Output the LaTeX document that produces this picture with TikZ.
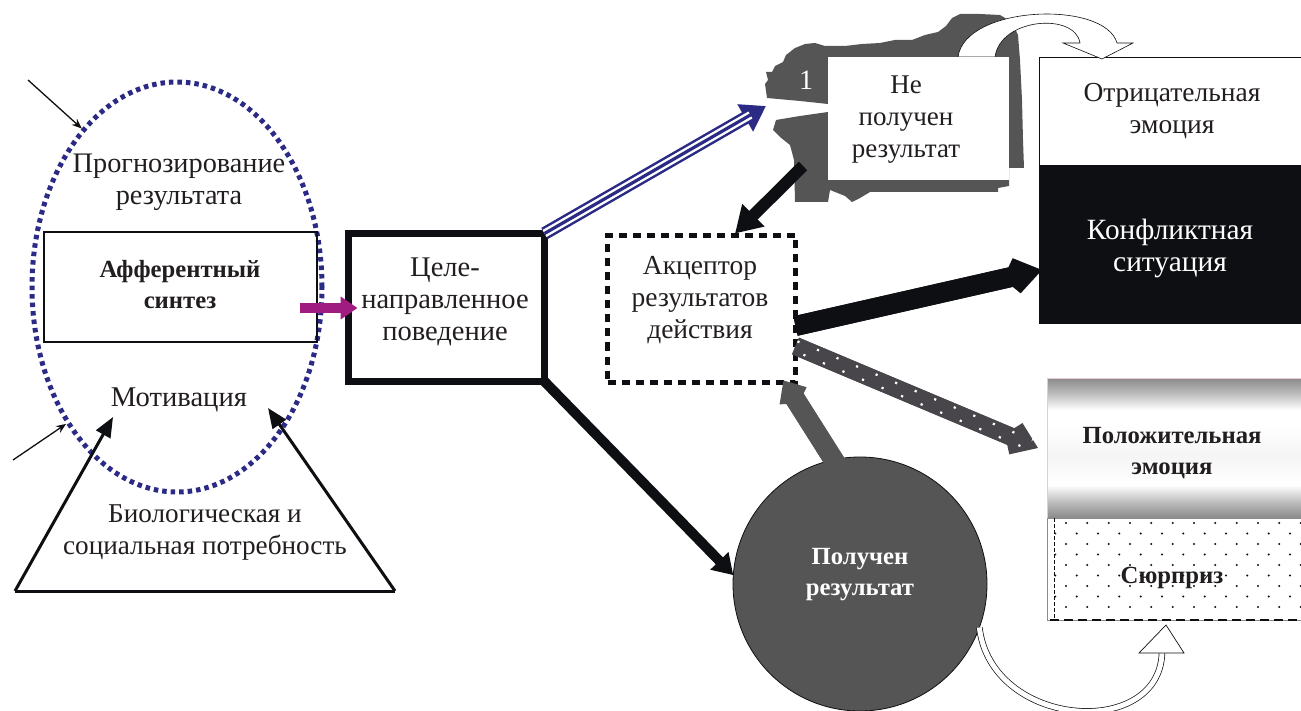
\documentclass[tikz,border=0pt]{standalone}
\usepackage{fontspec}
\setmainfont{Liberation Serif}
\usetikzlibrary{arrows.meta,shapes.geometric,calc}
\definecolor{navy}{HTML}{2B2A84}
\definecolor{mag}{HTML}{A11C80}
\definecolor{dgray}{HTML}{555555}
\definecolor{dotgray}{HTML}{48464A}
\definecolor{ink}{HTML}{0E0F13}
\definecolor{txtc}{HTML}{221E1F}
\definecolor{pinkline}{HTML}{E6C9D2}
\definecolor{metal}{HTML}{8A8A8A}
\begin{document}
\begin{tikzpicture}[x=1pt,y=-1pt,
  txt/.style={font=\fontsize{#1}{32}\selectfont, align=center, inner sep=0pt, text=txtc},
  txt/.default=28,
  btxt/.style={font=\fontsize{24.7}{31}\selectfont\bfseries, align=center, inner sep=0pt, text=txtc},
  shapebox/.style={rectangle, inner sep=0pt, outer sep=0pt},
  thinarrow/.style={ink, line width=1.3pt, -{Stealth[length=10pt,width=8pt]}},
  sidearrow/.style={ink, line width=3pt, -{Triangle[length=20pt,width=16pt]}},
]
\useasboundingbox (0,0) rectangle (1301,711);

% ---------- left part ----------
\node[ellipse, draw=navy, line width=5pt, dash pattern=on 4.5pt off 4pt,
      minimum width=290pt, minimum height=410pt, inner sep=0pt] (ell) at (177,287) {};
\node[shapebox, draw=ink, line width=1.5pt, minimum width=273pt, minimum height=110pt] (aff) at (180.5,287) {};
\node[btxt] (afftxt) at (180,285) {Афферентный\\синтез};
\node[txt=28.3] (prog) at (179,182) {Прогнозирование\\результата};
\node[txt=28.6] (mot) at (179,400) {Мотивация};
\node[txt=27.2] (bio) at (205,532) {Биологическая и\\социальная потребность};

\coordinate (tl) at (15,591);
\coordinate (tr) at (395,591);
\coordinate (tipL) at (113,417);
\coordinate (tipR) at (268,408);
\draw[ink, line width=3pt] (tl) -- (tr);
\draw[sidearrow] (tl) -- (tipL);
\draw[sidearrow] (tr) -- (tipR);

\coordinate (in1) at (28,80);
\coordinate (in2) at (13,460);
\draw[thinarrow] (in1) -- (ell.121);
\draw[thinarrow] (in2) -- (ell.231);

% ---------- behaviour ----------
\node[shapebox, draw=ink, line width=7pt, minimum width=196pt, minimum height=148pt] (beh) at (446.5,307.5) {};
\node[txt=28.5] (behtxt) at (445,302) {Целе-\\направленное\\поведение};

\coordinate (m1) at ([xshift=-17pt,yshift=-21pt]aff.east);
\coordinate (m2) at ([xshift=9pt]beh.west |- m1);
\draw[mag, line width=10pt, -{Triangle[length=17pt,width=22pt]}] (m1) -- (m2);

% ---------- acceptor ----------
\node[shapebox, draw=ink, line width=5pt, dash pattern=on 8pt off 6pt,
      minimum width=188pt, minimum height=147pt] (acc) at (701.5,309) {};
\node[txt=27.5] (acctxt) at (700,300) {Акцептор\\результатов\\действия};

% ---------- circle ----------
\node[circle, draw=ink, line width=0.8pt, fill=dgray, minimum size=254pt, inner sep=0pt, outer sep=0pt] (circ) at (860,584) {};

% ---------- right boxes ----------
\node[shapebox, draw=ink, line width=1pt, fill=white, minimum width=266pt, minimum height=108pt, anchor=north west] (neg) at (1039,58) {};
\node[txt=27.5] (negtxt) at (1172,111) {Отрицательная\\эмоция};
\node[shapebox, fill=ink, minimum width=266pt, minimum height=158pt, anchor=north west] (konf) at (1039,166) {};
\node[txt=29.4, text=white] (konftxt) at (1170,248) {Конфликтная\\ситуация};

\shade[top color=metal, bottom color=metal!55!white] (1047,378) rectangle (1307,394);
\shade[top color=metal!55!white, bottom color=white] (1047,394) rectangle (1307,410);
\fill[white] (1047,410) rectangle (1307,425);
\shade[top color=white, bottom color=black!4] (1047,425) rectangle (1307,455);
\shade[top color=black!4, bottom color=white] (1047,455) rectangle (1307,485);
\shade[top color=white, bottom color=metal!60!white] (1047,485) rectangle (1307,503);
\shade[top color=metal!60!white, bottom color=metal] (1047,503) rectangle (1307,518);
\node[shapebox, draw=pinkline, line width=0.6pt, minimum width=260pt, minimum height=140pt, anchor=north west] (pos) at (1047,378) {};
\node[btxt] (postxt) at (1172,453) {Положительная\\эмоция};

\node[shapebox, draw=black!45, line width=0.6pt, minimum width=260pt, minimum height=102pt, anchor=north west] (sur) at (1047,518) {};
\begin{scope}
  \clip (1050,519) rectangle (1301,617);
  \foreach \r in {0,...,8} {
    \foreach \c in {0,...,12} {
      \pgfmathsetmacro{\dx}{1066+\c*21.33-mod(\r,2)*10.66}
      \pgfmathsetmacro{\dy}{523+\r*10.5}
      \fill[ink] (\dx,\dy) circle (1.1pt);
    }
  }
\end{scope}
\draw[ink, line width=2.5pt, dash pattern=on 9pt off 5pt] (sur.south west) ++(3pt,0pt) -- (sur.south east);
\draw[ink, line width=1pt, dash pattern=on 4pt off 2pt] ([xshift=7pt]sur.north west) -- ([xshift=7pt]sur.south west);
\node[btxt] (surtxt) at (1172,578) {Сюрприз};

% ---------- splash with "not obtained" ----------
\fill[dgray] (767,98) -- (765,84) -- (768,80) -- (766,72) -- (772,72) -- (775,66) -- (783,62)
  -- (786,55) -- (795,48) -- (805,44) -- (815,43) -- (825,46) -- (845,46) -- (862,44) -- (880,43)
  -- (895,40) -- (912,40) -- (925,35) -- (938,32) -- (946,26) -- (952,18) -- (960,14) -- (980,14)
  -- (1000,15) -- (1012,22) -- (1018,35) -- (1020,60) -- (1022,100) -- (1023,140) -- (1024,168)
  -- (1009,168) -- (1009,186) -- (998,188) -- (998,192) -- (870,192) -- (860,198) -- (852,202)
  -- (845,196) -- (830,190) -- (828,202) -- (795,202) -- (794,160) -- (790,145) -- (780,137)
  -- (773,130) -- (776,120) -- (800,116) -- (828,112) -- (828,104) -- (800,101) -- cycle;

\coordinate (ta1) at (958,57);
\coordinate (ta2) at (995,57);
\coordinate (ta3) at ([xshift=63pt,yshift=-1pt]neg.north west);
\draw[ink, line width=0.6pt, fill=white] (ta1) .. controls (965,5) and (1105,0) .. (1117,43)
  -- (1133,43) -- (ta3) -- (1063,43) -- (1080,43) .. controls (1075,12) and (1000,18) .. (ta2) -- cycle;

\node[shapebox, fill=white, minimum width=181pt, minimum height=123pt, anchor=north west] (ne) at (828,57) {};
\node[txt=27] (netxt) at (906,120) {Не\\получен\\результат};
\node[txt, text=white] (one) at (806,80) {1};

% ---------- connectors ----------
\coordinate (nt) at (766,106);
\draw[navy, line width=13pt, -{Triangle[length=24pt,width=30pt]}] (beh.north east) -- (nt);
\draw[white, line width=8pt, shorten >=18pt] (beh.north east) -- (nt);
\draw[navy, line width=3.2pt, shorten >=16pt] (beh.north east) -- (nt);

\coordinate (sp) at (803,166);
\draw[ink, line width=12pt, -{Triangle[length=26pt,width=30pt]}] (sp) -- ([xshift=33.5pt,yshift=2pt]acc.north);

\draw[ink, line width=10pt, -{Triangle[length=20pt,width=24pt]}] (beh.south east) -- (circ.176);

\coordinate (g2) at ([xshift=-12pt,yshift=2pt]acc.south east);
\draw[dgray, line width=20pt, shorten <=-8pt, -{Kite[length=28pt,width=32pt,inset=10pt]}] (circ.102) -- (g2);
\draw[dgray, line width=20pt, shorten <=-8pt, shorten >=20pt] (circ.102) -- (g2);

\coordinate (k1) at ([yshift=-17pt]acc.east);
\coordinate (k2) at ([xshift=3pt,yshift=-25pt]konf.west);
\draw[ink, line width=20pt, -{Kite[length=40pt,width=36pt,inset=14pt]}] (k1) -- (k2);
\draw[ink, line width=20pt, shorten >=30pt] (k1) -- (k2);

\coordinate (d1) at ([yshift=-37pt]acc.east);
\coordinate (d2) at ([xshift=-9pt]pos.west);
\draw[dotgray, line width=18pt, -{Kite[length=36pt,width=34pt,inset=12pt]}] (d1) -- (d2);
\draw[dotgray, line width=18pt, shorten >=28pt] (d1) -- (d2);
\draw[white, line width=2.2pt, dash pattern=on 2.2pt off 19pt, shorten >=8pt]
  ([shift={(1.9pt,4.6pt)}]d1) -- ([shift={(1.9pt,4.6pt)}]d2);
\draw[white, line width=2.2pt, dash pattern=on 2.2pt off 19pt, dash phase=10.6pt, shorten >=8pt]
  ([shift={(-1.9pt,-4.6pt)}]d1) -- ([shift={(-1.9pt,-4.6pt)}]d2);

\node[btxt, text=white] (circtxt) at (860,575) {Получен\\результат};

\coordinate (b1) at (circ.-20);
\coordinate (b2) at ([xshift=-11pt,yshift=-5pt]sur.south);
\draw[ink, line width=0.7pt, double=white, double distance=5pt]
  (b1) .. controls +(12,101) and +(-3,87) .. ($(b2)+(-4,28)$);
\draw[ink, line width=0.7pt, fill=white] ($(b2)+(-27,28)$) -- (b2) -- ($(b2)+(18,28)$) -- cycle;
\end{tikzpicture}
\end{document}
